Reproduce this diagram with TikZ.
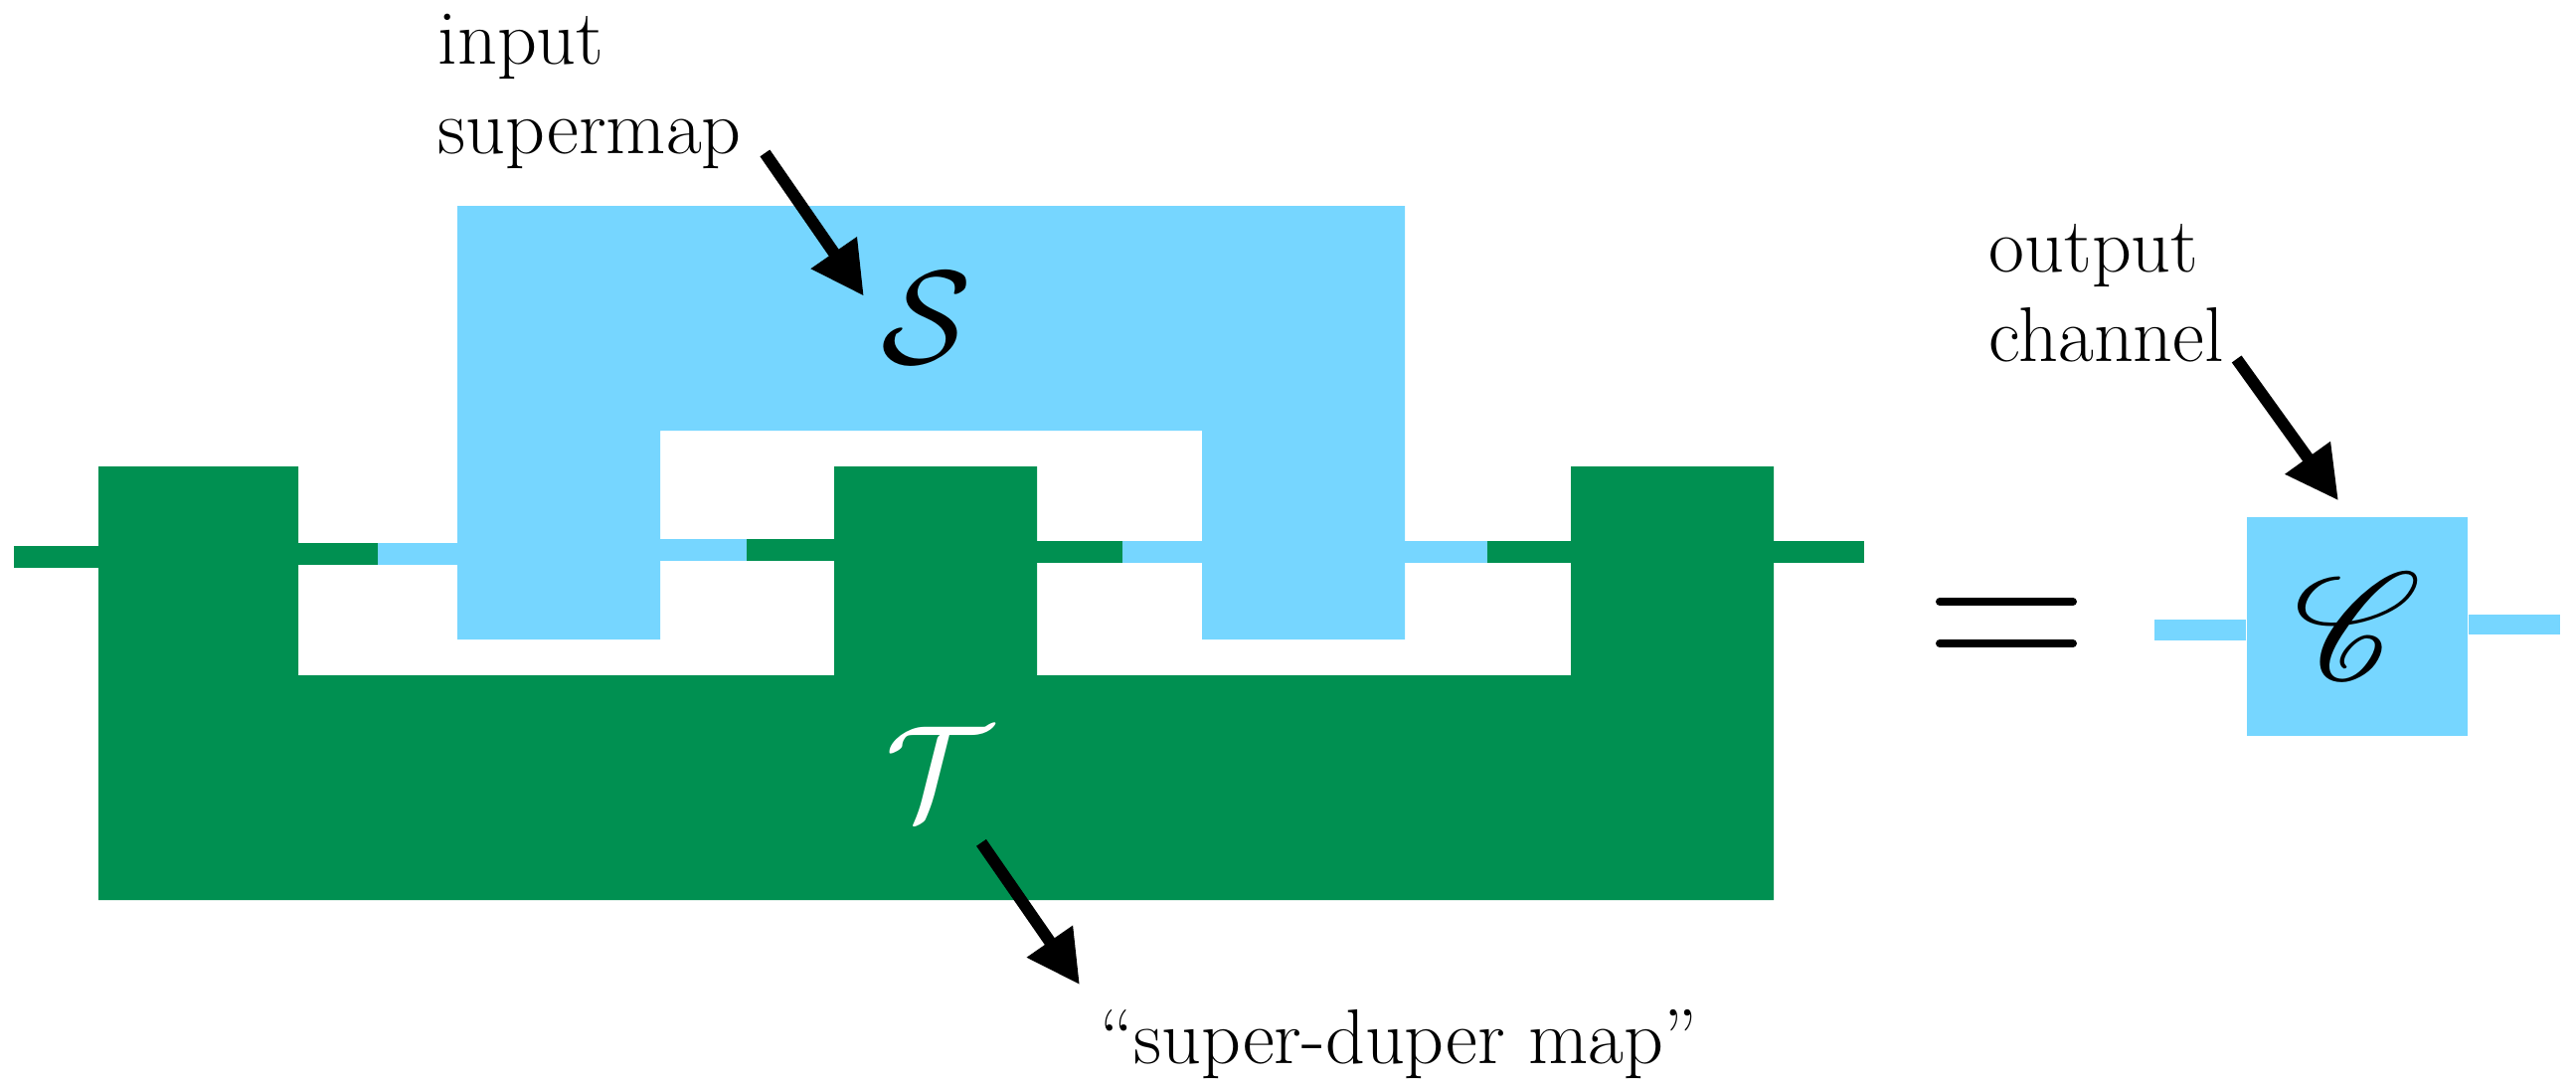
\RequirePackage{fix-cm}
\documentclass[tikz,border=0pt]{standalone}
\usepackage{fontspec}
\usepackage{mathrsfs}
\usetikzlibrary{arrows.meta}
\definecolor{sky}{RGB}{118,214,255}
\definecolor{moss}{RGB}{0,144,81}

\begin{document}
\begin{tikzpicture}[>=Stealth, every node/.style={font=\fontsize{22.2}{25.6}\selectfont},lbl/.style={inner sep=0pt, align=left, anchor=north west},big/.style={inner sep=0pt, font=\fontsize{38}{40}\selectfont},wire/.style={line width=0.22cm},pointer/.style={-{Triangle[length=0.53cm,width=0.53cm]}, line width=0.12cm},]
\useasboundingbox (0,0) rectangle (25.91,-10.87);
% supermap S
\fill[sky] (4.60,-2.07) -- (14.13,-2.07) -- (14.13,-6.43) -- (12.09,-6.43) -- (12.09,-4.33) -- (6.64,-4.33) -- (6.64,-6.43) -- (4.60,-6.43) -- cycle;
% super-duper map T
\fill[moss] (0.99,-4.69) -- (3.00,-4.69) -- (3.00,-6.79) -- (8.39,-6.79) -- (8.39,-4.69) -- (10.43,-4.69) -- (10.43,-6.79) -- (15.80,-6.79) -- (15.80,-4.69) -- (17.84,-4.69) -- (17.84,-9.05) -- (0.99,-9.05) -- cycle;
% wires
\draw[wire,moss] (0.14,-5.60) -- (0.99,-5.60);
\draw[wire,moss] (3.00,-5.57) -- (3.80,-5.57);
\draw[wire,sky] (3.80,-5.57) -- (4.60,-5.57);
\draw[wire,sky] (6.64,-5.53) -- (7.51,-5.53);
\draw[wire,moss] (7.51,-5.53) -- (8.39,-5.53);
\draw[wire,moss] (10.43,-5.55) -- (11.29,-5.55);
\draw[wire,sky] (11.29,-5.55) -- (12.09,-5.55);
\draw[wire,sky] (14.13,-5.55) -- (14.96,-5.55);
\draw[wire,moss] (14.96,-5.55) -- (15.80,-5.55);
\draw[wire,moss] (17.84,-5.55) -- (18.75,-5.55);
\node[big] (S) at (9.32,-3.20) {$\mathcal{S}$};
\node[big, text=white] (T) at (9.44,-7.77) {$\mathcal{T}$};
\node[lbl] (inlab) at (4.40,-0.13) {input\\supermap};
\node[lbl] (outlab) at (20.00,-2.25) {output\\channel};
\node[inner sep=0pt, anchor=base west] (dlab) at (11.06,-10.69) {``super-duper map''};
% equals
\draw[line width=0.08cm, line cap=round] (19.51,-6.05) -- (20.85,-6.05);
\draw[line width=0.08cm, line cap=round] (19.51,-6.47) -- (20.85,-6.47);
% output channel C
\node[fill=sky, minimum width=2.22cm, minimum height=2.20cm, inner sep=0pt, font=\fontsize{38}{40}\selectfont] (C) at (23.71,-6.30) {\scalebox{1.75}{$\mathscr{C}$}};
\draw[wire,sky,line width=0.21cm] ([yshift=-0.035cm]C.west) -- ++(-0.92,0);
\draw[wire,sky,line width=0.20cm] ([yshift=0.02cm]C.east) -- ++(0.92,0);
% pointers
\draw[pointer] ([shift={(0.23,0.16)}]inlab.south east) -- ([shift={(-0.17,-0.24)}]S.north west);
\draw[pointer] ([shift={(0.43,-0.24)}]T.south) -- ([shift={(-0.20,0.24)}]dlab.north west);
\draw[pointer] ([shift={(0.12,0.04)}]outlab.south east) -- ([shift={(-0.19,0.16)}]C.north);
\end{tikzpicture}
\end{document}
